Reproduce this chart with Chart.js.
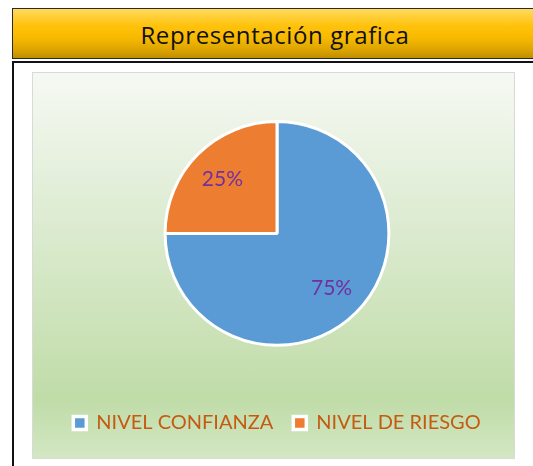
<!DOCTYPE html>
<html>
<head>
<meta charset="utf-8">
<script src="https://cdn.jsdelivr.net/npm/chart.js@4.4.1/dist/chart.umd.min.js"></script>
<style>
  html, body { margin: 0; padding: 0; background: #ffffff; width: 533px; height: 466px; overflow: hidden; position: relative; }
  #titlebar {
    position: absolute; left: 12px; top: 8px; width: 524px; height: 47px; padding-top: 2px;
    border: 1px solid #2a2a2a;
    background: linear-gradient(to bottom, #FFDA5E 0%, #FFC20A 35%, #F7B900 60%, #D9A200 85%, #BF8F00 100%);
    font-family: "Open Sans", "Lato", sans-serif; font-size: 24px; letter-spacing: 0.6px; color: #111;
    text-align: center; line-height: 47px; box-sizing: content-box;
  }
  #frame {
    position: absolute; left: 12px; top: 61px; width: 540px; height: 420px;
    border: 2px solid #111; background: #fff;
  }
  #plot {
    position: absolute; left: 32px; top: 72px; width: 481px; height: 385px;
    border: 1px solid #D9D9D9;
    background: linear-gradient(to bottom, #F6F9F3 0%, #DCEBD0 40%, #C0DCA8 85%, #D3E7C3 100%);
  }
  #plot canvas { display: block; }
</style>
</head>
<body>
<div id="titlebar">Representación grafica</div>
<div id="frame"></div>
<div id="plot"><canvas id="c" width="481" height="385"></canvas></div>
<script>
const categories = ["NIVEL CONFIANZA", "NIVEL DE RIESGO"];
const values = [75, 25];
const valueLabels = ["75%", "25%"];
const colors = ["#5B9BD5", "#ED7D31"];

const pieLabels = {
  id: 'pieLabels',
  afterDatasetsDraw(chart) {
    const ctx = chart.ctx;
    const meta = chart.getDatasetMeta(0);
    ctx.save();
    ctx.font = '21px Lato, "Open Sans", sans-serif';
    ctx.fillStyle = '#7030A0';
    ctx.textAlign = 'center';
    ctx.textBaseline = 'middle';
    meta.data.forEach((arc, i) => {
      const p = arc.getProps(['x', 'y', 'startAngle', 'endAngle', 'outerRadius'], true);
      const mid = (p.startAngle + p.endAngle) / 2;
      const r = p.outerRadius * 0.69;
      ctx.fillText(valueLabels[i], p.x + Math.cos(mid) * r, p.y + Math.sin(mid) * r);
    });
    ctx.restore();
  }
};

new Chart(document.getElementById('c'), {
  type: 'pie',
  data: {
    labels: categories,
    datasets: [{
      data: values,
      backgroundColor: colors,
      borderColor: '#ffffff',
      borderWidth: 3
    }]
  },
  options: {
    responsive: false,
    animation: false,
    layout: { padding: { top: 47, bottom: 15, left: 7, right: 0 } },
    plugins: {
      tooltip: { enabled: false },
      legend: {
        position: 'bottom',
        title: { display: true, text: ' ', font: { size: 1 }, padding: { top: 45, bottom: 0 } },
        labels: {
          boxWidth: 13,
          boxHeight: 13,
          padding: 20,
          color: '#C55A11',
          font: { family: 'Lato, "Open Sans", sans-serif', size: 20 },
          generateLabels(chart) {
            const items = Chart.controllers.pie.overrides.plugins.legend.labels.generateLabels(chart);
            items.forEach(it => { it.lineWidth = 3.5; it.strokeStyle = '#ffffff'; });
            return items;
          }
        }
      }
    }
  },
  plugins: [pieLabels]
});
</script>
</body>
</html>
